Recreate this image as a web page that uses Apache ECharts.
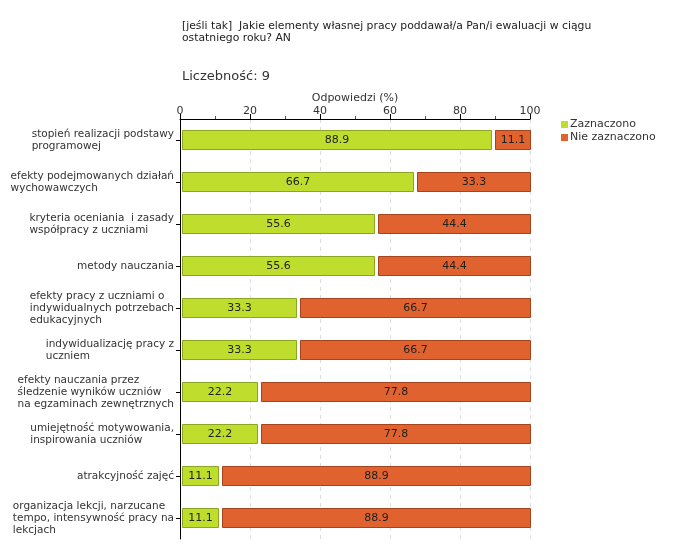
<!DOCTYPE html>
<html><head><meta charset="utf-8">
<script src="https://cdn.jsdelivr.net/npm/echarts@6/dist/echarts.min.js"></script>
<style>html,body{margin:0;padding:0;background:#fff}#c{width:680px;height:560px}</style>
</head><body><div id="c"></div>
<script>
var categories = [
  "stopień realizacji podstawy\nprogramowej",
  "efekty podejmowanych działań\nwychowawczych",
  "kryteria oceniania  i zasady\nwspółpracy z uczniami",
  "metody nauczania",
  "efekty pracy z uczniami o\nindywidualnych potrzebach\nedukacyjnych",
  "indywidualizację pracy z\nuczniem",
  "efekty nauczania przez\nśledzenie wyników uczniów\nna egzaminach zewnętrznych",
  "umiejętność motywowania,\ninspirowania uczniów",
  "atrakcyjność zajęć",
  "organizacja lekcji, narzucane\ntempo, intensywność pracy na\nlekcjach"
];
var zaznaczono = [88.9, 66.7, 55.6, 55.6, 33.3, 33.3, 22.2, 22.2, 11.1, 11.1];
var nieZaznaczono = [11.1, 33.3, 44.4, 44.4, 66.7, 66.7, 77.8, 77.8, 88.9, 88.9];
var xTicks = [0, 20, 40, 60, 80, 100];

var FONT = 'DejaVu Sans';
var greenData = zaznaczono.map(function (v, i) { return [0, v, i]; });
var orangeData = nieZaznaczono.map(function (v, i) { return [zaznaczono[i], zaznaczono[i] + v, i]; });

function makeRender(padL, padR, fill, stroke) {
  return function (params, api) {
    var a = api.coord([api.value(0), api.value(2)]);
    var b = api.coord([api.value(1), api.value(2)]);
    var h = 20;
    var x = a[0] + padL, w = b[0] - a[0] - padL - padR;
    var val = (api.value(1) - api.value(0)).toFixed(1);
    return {
      type: 'rect',
      shape: { x: Math.round(x) + 0.5, y: Math.round(a[1] - h / 2) + 0.5, width: Math.round(w), height: h - 1 },
      style: { fill: fill, stroke: stroke, lineWidth: 1 },
      textContent: { style: { text: val, fill: '#222', fontSize: 11, fontFamily: FONT } },
      textConfig: { position: 'inside' }
    };
  };
}

var chart = echarts.init(document.getElementById('c'), null, { renderer: 'canvas' });
chart.setOption({
  animation: false,
  title: [
    { text: '[jeśli tak]  Jakie elementy własnej pracy poddawał/a Pan/i ewaluacji w ciągu\nostatniego roku? AN',
      left: 177, top: 15, textStyle: { fontSize: 10.8, fontWeight: 'normal', color: '#222', fontFamily: FONT, lineHeight: 12 } },
    { text: 'Liczebność: 9', left: 177, top: 65, textStyle: { fontSize: 13, fontWeight: 'normal', color: '#333', fontFamily: FONT } }
  ],
  legend: {
    orient: 'vertical', left: 556, top: 114, itemWidth: 7, itemHeight: 7, itemGap: 2,
    textStyle: { fontSize: 11, color: '#333', fontFamily: FONT, padding: [0, 0, 0, -3] },
    data: [
      { name: 'Zaznaczono', icon: 'rect', itemStyle: { color: '#bedd2c' } },
      { name: 'Nie zaznaczono', icon: 'rect', itemStyle: { color: '#e0622e' } }
    ]
  },
  grid: { left: 180, right: 150, top: 119, height: 420, containLabel: false },
  xAxis: {
    type: 'value', position: 'top', min: 0, max: 100, interval: 20,
    name: 'Odpowiedzi (%)', nameLocation: 'middle', nameGap: 15, nameMoveOverlap: false,
    nameTextStyle: { fontSize: 11, color: '#333', fontFamily: FONT },
    axisLine: { show: true, lineStyle: { color: '#000', width: 1 } },
    axisTick: { show: true, length: 5, lineStyle: { color: '#000' } },
    minorTick: { show: true, splitNumber: 2, length: 3, lineStyle: { color: '#d02020' } },
    axisLabel: { fontSize: 11, color: '#333', fontFamily: FONT, margin: 2,
      formatter: function (v) { return xTicks.indexOf(v) >= 0 ? String(v) : ''; } },
    splitLine: { show: true, lineStyle: { color: '#ddd', type: [4, 4] } }
  },
  yAxis: {
    type: 'category', inverse: true, data: categories,
    axisLine: { show: true, lineStyle: { color: '#000', width: 1 } },
    axisTick: { show: true, alignWithLabel: true, length: 4, lineStyle: { color: '#000' } },
    axisLabel: {
      margin: 6, color: '#333', fontSize: 10.5, fontFamily: FONT, lineHeight: 12,
      formatter: function (v) { return v.split('\n').map(function (l) { return '{a|' + l + '}'; }).join('\n'); },
      rich: { a: { align: 'left', fontSize: 10.5, fontFamily: FONT, color: '#333', lineHeight: 12 } }
    }
  },
  series: [
    { name: 'Zaznaczono', type: 'custom', data: greenData, encode: { x: [0, 1], y: 2 },
      itemStyle: { color: '#bedd2c' },
      renderItem: makeRender(2, 0.5, '#bedd2c', '#8aa624') },
    { name: 'Nie zaznaczono', type: 'custom', data: orangeData, encode: { x: [0, 1], y: 2 },
      itemStyle: { color: '#e0622e' },
      renderItem: makeRender(3.5, 0, '#e0622e', '#a5441c') }
  ]
});
</script></body></html>
